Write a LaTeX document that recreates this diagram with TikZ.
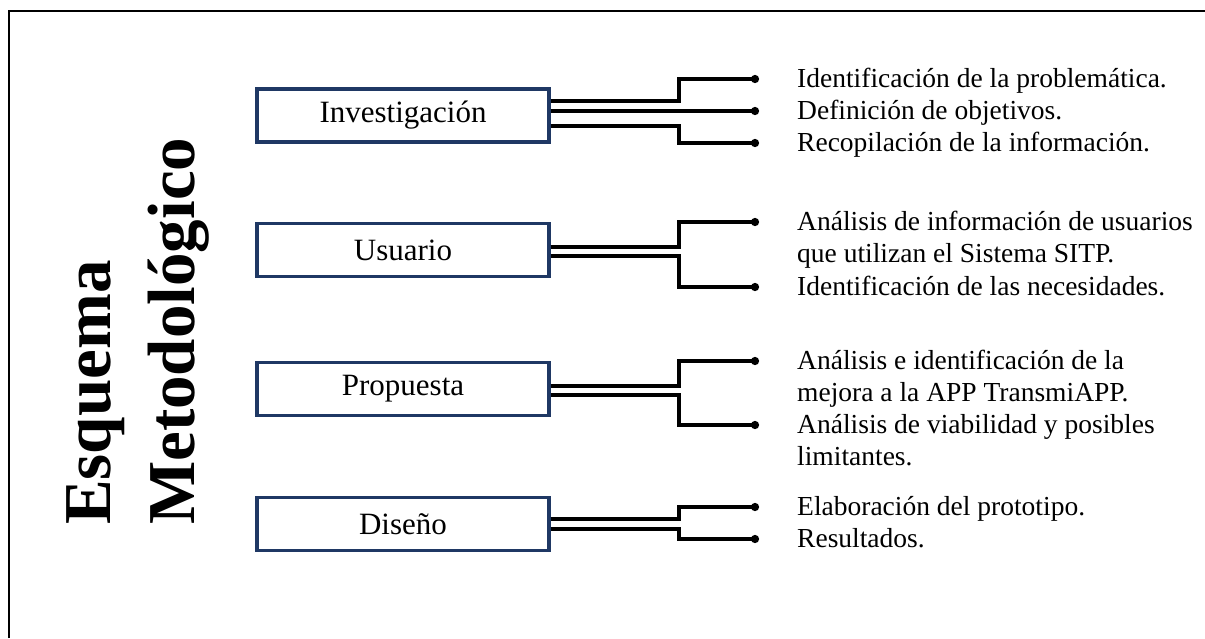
\documentclass[tikz,border=0pt]{standalone}
\usepackage{fontspec}
\setmainfont{Liberation Serif}
\usetikzlibrary{arrows.meta}
\definecolor{navy}{HTML}{1F3864}
\begin{document}
\begin{tikzpicture}[x=1pt,y=-1pt,
  box/.style={draw=navy, line width=3.4pt, minimum width=292pt, minimum height=53pt, inner sep=0pt, font=\fontsize{31}{35}\selectfont},
  conn/.style={line width=3.4pt, -{Circle[length=8pt]}},
  item/.style={anchor=base west, inner sep=0pt, align=left, font=\fontsize{27.5}{32.3}\selectfont},
  frameline/.style={line width=2.6pt}]
\useasboundingbox (0,0) rectangle (1205,638);
\draw[frameline] (9,638) -- (9,11) -- (1205,11);

\node[rotate=90, anchor=north west, inner sep=0pt, align=left, font=\fontsize{67}{84}\selectfont\bfseries] (title) at (66,525) {Esquema\\Metodológico};

\node[box] (inv) at (403,115.5) {Investigación};
\node[box] (usu) at (403,250) {Usuario};
\node[box] (pro) at (403,389) {Propuesta};
\node[box] (dis) at (403,524) {Diseño};

\coordinate (i1) at (759,79);
\coordinate (i2) at (759,111);
\coordinate (i3) at (759,143);
\coordinate (u1) at (759,222);
\coordinate (u2) at (759,287);
\coordinate (p1) at (759,361);
\coordinate (p2) at (759,425);
\coordinate (d1) at (759,507);
\coordinate (d2) at (759,539);

\draw[conn] (inv.east |- 0,101) -| ([xshift=-80pt]i1) -- (i1);
\draw[conn] (inv.east |- 0,111) -- (i2);
\draw[conn] (inv.east |- 0,126) -| ([xshift=-80pt]i3) -- (i3);
\draw[conn] (usu.east |- 0,247) -| ([xshift=-80pt]u1) -- (u1);
\draw[conn] (usu.east |- 0,256) -| ([xshift=-80pt]u2) -- (u2);
\draw[conn] (pro.east |- 0,386) -| ([xshift=-80pt]p1) -- (p1);
\draw[conn] (pro.east |- 0,395) -| ([xshift=-80pt]p2) -- (p2);
\draw[conn] (dis.east |- 0,519) -| ([xshift=-80pt]d1) -- (d1);
\draw[conn] (dis.east |- 0,529) -| ([xshift=-80pt]d2) -- (d2);

\node[item] (t1) at (797,87) {Identificación de la problemática.};
\node[item] (t2) at (797,119) {Definición de objetivos.};
\node[item] (t3) at (797,151) {Recopilación de la información.};
\node[item] (t4) at (797,262.3) {Análisis de información de usuarios\\que utilizan el Sistema SITP.};
\node[item] (t5) at (797,295) {Identificación de las necesidades.};
\node[item] (t6) at (797,401.3) {Análisis e identificación de la\\mejora a la APP TransmiAPP.};
\node[item] (t7) at (797,465.3) {Análisis de viabilidad y posibles\\limitantes.};
\node[item] (t8) at (797,515) {Elaboración del prototipo.};
\node[item] (t9) at (797,547) {Resultados.};
\end{tikzpicture}
\end{document}
